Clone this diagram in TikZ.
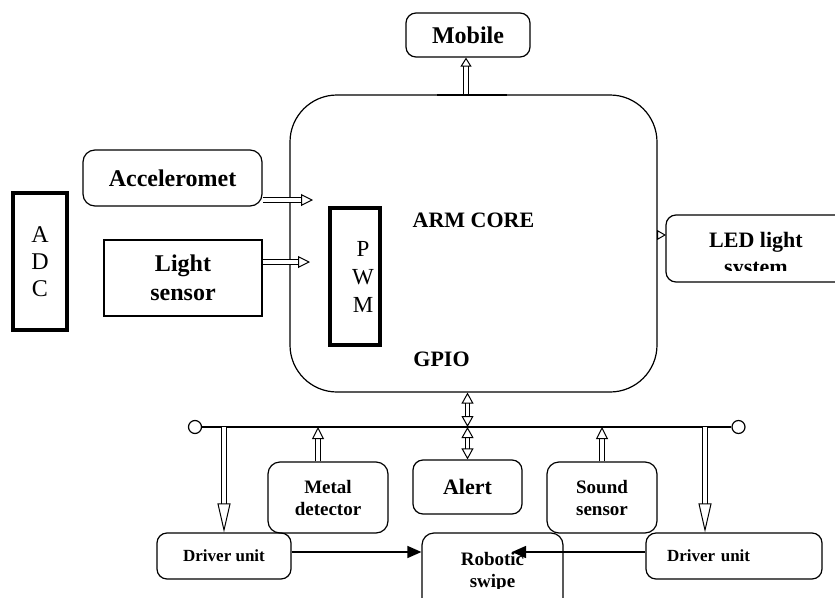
\documentclass[tikz,border=0pt]{standalone}
\usepackage{fontspec}
\setmainfont{Liberation Serif}
\usetikzlibrary{arrows.meta,positioning}

\begin{document}
\begin{tikzpicture}[x = 1pt, y = -1pt,
    box/.style={draw, line width=1.2pt, rounded corners=10pt, inner sep=0pt, align=center,
        font=\bfseries\fontsize{24}{29}\selectfont},
    smallbox/.style={box, font=\bfseries\fontsize{19}{22}\selectfont},
    portbox/.style={draw, line width=4pt, inner sep=0pt, align=center,
        font=\fontsize{24}{27}\selectfont},
    hollow/.style={double, double distance=3.5pt, line width=1pt,
        -{Triangle[open, length=12pt, width=12pt]}},
    twoway/.style={hollow, {Triangle[open, length=11pt, width=12pt]}-{Triangle[open, length=11pt, width=12pt]}},
    down/.style={hollow, -{Triangle[open, length=29pt, width=13pt]}},
    solid/.style={line width=1.4pt, -{Triangle[length=14pt, width=12pt]}},
    port/.style={draw, circle, line width=1.2pt, minimum size=13pt, inner sep=0pt}]
    \useasboundingbox (0,0) rectangle (835,597);
    \clip (0,0) rectangle (835,597);
    % processor
    \node[box, rounded corners=47pt, minimum width=367pt, minimum height=297pt] (core) at (473.5,243.5) {};
    \node[font=\bfseries\fontsize{22}{26}\selectfont] (arm) at (473.5,220.5) {ARM CORE};
    \node[font=\bfseries\fontsize{22}{26}\selectfont] (gpio) at (441.5,359.5) {GPIO};
    \node[portbox, line width=3.5pt, minimum width=50pt, minimum height=137pt] (pwm) at (355,276.5) {};
    \node[font=\fontsize{23}{28}\selectfont, align=center] (pwmtext) at (363,276.5) {P\\W\\M};
    \draw[line width=2.5pt] (437,95) -- (507,95);
    % inputs
    \node[portbox, minimum width=54pt, minimum height=137pt] (adc) at (40,261.5) {A\\D\\C};
    \node[box, rounded corners=12pt, minimum width=179pt, minimum height=56pt] (accel) at (172.5,178) {Acceleromet};
    \node[box, rounded corners=0pt, minimum width=158pt, minimum height=76pt] (light) at (183,278) {Light\\sensor};
    \coordinate (accin) at (313,200);
    \coordinate (lightin) at (310,262);
    \draw[hollow] (accel.east |- accin) -- (accin);
    \draw[hollow] (light.east |- lightin) -- (lightin);
    % outputs
    \node[box, minimum width=124pt, minimum height=44pt] (mobile) at (468,35) {Mobile};
    \draw[hollow, -{Triangle[open, length=9pt, width=11pt]}] (core.north -| 466,0) -- (mobile.south -| 466,0);
    \node[box, minimum width=184pt, minimum height=67pt] (led) at (758,248.5) {};
    \begin{scope}
        \clip (666,215) rectangle (835,270);
        \node[font=\bfseries\fontsize{22}{27}\selectfont, align=center] (ledtext) at (756,256) {LED light\\system};
    \end{scope}
    \coordinate (ledin) at (666,235);
    \draw[hollow, -{Triangle[open, length=9pt, width=10pt]}] (core.east |- ledin) -- (ledin);
    % bus
    \node[port] (lbus) at (195,427) {};
    \node[port] (rbus) at (738.5,427) {};
    \draw[line width=1.3pt] (lbus) -- (rbus);
    \node[smallbox, rounded corners=12pt, minimum width=120pt, minimum height=71pt] (metal) at (328,497.5) {Metal\\detector};
    \node[box, font=\bfseries\fontsize{22}{26}\selectfont, minimum width=109pt, minimum height=54pt] (alert) at (467.5,487) {Alert};
    \node[smallbox, rounded corners=12pt, minimum width=110pt, minimum height=71pt] (sound) at (602,497.5) {Sound\\sensor};
    \draw[twoway] (core.south -| alert.north) -- (lbus -| alert.north);
    \draw[twoway] (lbus -| alert.north) -- (alert.north);
    \draw[hollow] ([xshift=-10pt]metal.north) -- (lbus -| 318,0);
    \draw[hollow] (sound.north) -- (lbus -| sound.north);
    % drives
    \node[box, font=\bfseries\fontsize{17}{20}\selectfont, minimum width=134pt, minimum height=46pt] (drv1) at (224,556) {Driver unit};
    \node[box, font=\bfseries\fontsize{17}{20}\selectfont, minimum width=176pt, minimum height=46pt,
        text width=134pt, inner xsep=21pt, align=left] (drv2) at (734,556) {Driver unit};
    \node[box, rounded corners=12pt, minimum width=141pt, minimum height=90pt] (robot) at (492.5,578) {};
    \begin{scope}
        \clip (422,533) rectangle (563,588);
        \node[font=\bfseries\fontsize{19}{22}\selectfont, align=center] (robottext) at (492.5,572) {Robotic\\swipe};
    \end{scope}
    \draw[down] (lbus -| drv1.north) -- (drv1.north);
    \draw[down] (rbus -| 705,0) -- (drv2.north -| 705,0);
    \coordinate (robin) at (512,552);
    \draw[solid] ([yshift=4pt]drv1.east) -- (robot.west |- robin);
    \draw[solid] (drv2.west |- robin) -- (robin);
\end{tikzpicture}
\end{document}
